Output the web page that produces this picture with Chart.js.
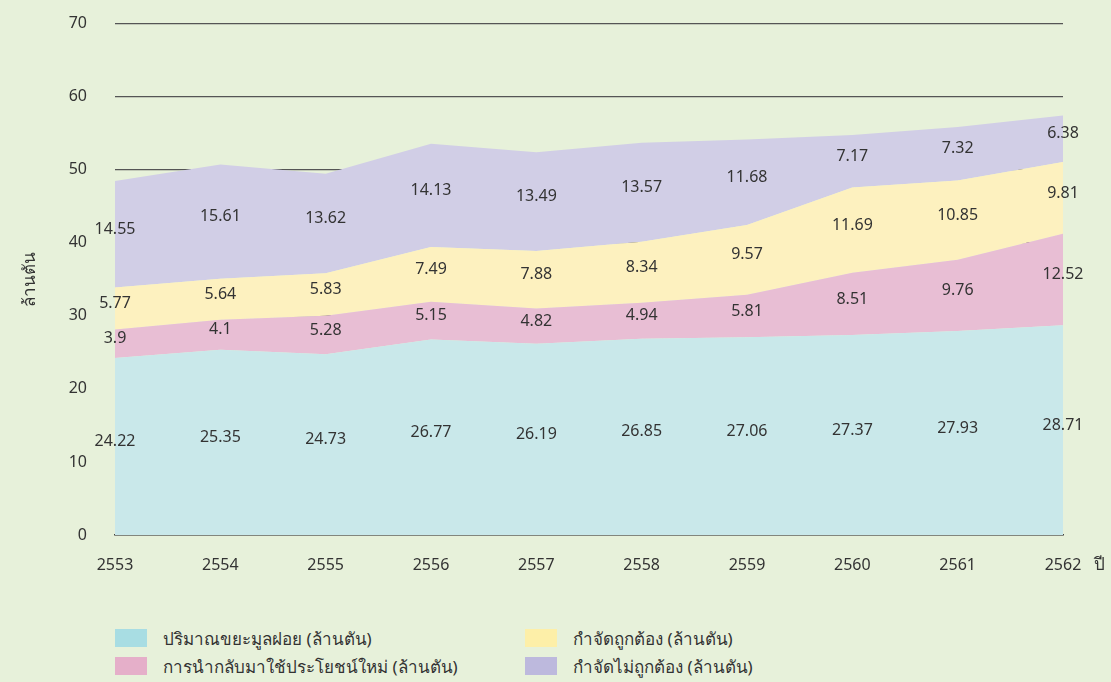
<!DOCTYPE html>
<html>
<head>
<meta charset="utf-8">
<script src="https://cdn.jsdelivr.net/npm/chart.js@4.4.0/dist/chart.umd.min.js"></script>
<style>
  html, body { margin: 0; padding: 0; background: #e7f1da; }
  body { width: 1111px; height: 682px; position: relative; overflow: hidden;
         font-family: "Noto Sans", "Noto Sans CJK SC", sans-serif; }
  #wrap { position: absolute; left: 0; top: -14px; width: 1111px; height: 614px; }
  #legend { position: absolute; left: 115px; top: 624px; display: grid;
            grid-template-rows: 28px 28px; grid-auto-flow: column;
            grid-template-columns: 410px 400px; }
  .item { display: flex; align-items: center; font-size: 17px; color: #333; }
  .box { width: 32px; height: 18px; margin-right: 16px; }
</style>
</head>
<body>
<div id="wrap"><canvas id="chart"></canvas></div>
<div id="legend"></div>
<script>
// years (พ.ศ.)
const years = ['2553','2554','2555','2556','2557','2558','2559','2560','2561','2562']
const generated = [24.22, 25.35, 24.73, 26.77, 26.19, 26.85, 27.06, 27.37, 27.93, 28.71]
const reused    = [3.9, 4.1, 5.28, 5.15, 4.82, 4.94, 5.81, 8.51, 9.76, 12.52]
const proper    = [5.77, 5.64, 5.83, 7.49, 7.88, 8.34, 9.57, 11.69, 10.85, 9.81]
const improper  = [14.55, 15.61, 13.62, 14.13, 13.49, 13.57, 11.68, 7.17, 7.32, 6.38]
const seriesNames = ['ปริมาณขยะมูลฝอย (ล้านตัน)', 'การนำกลับมาใช้ประโยชน์ใหม่ (ล้านตัน)',
                     'กำจัดถูกต้อง (ล้านตัน)', 'กำจัดไม่ถูกต้อง (ล้านตัน)']
const areaColors = ['#c9e8ea', '#e8bed4', '#fdf1bf', '#d1cee6']
const boxColors  = ['#a8dde3', '#e5afc9', '#fdefa8', '#bdb9dd']

const allSeries = [generated, reused, proper, improper]

// labels in the middle of each band
const bandLabels = {
  id: 'bandLabels',
  afterDatasetsDraw(chart) {
    const ctx = chart.ctx
    const bottom = chart.scales.y.getPixelForValue(0)
    ctx.save()
    ctx.font = '16px "Noto Sans"'
    ctx.fillStyle = '#333'
    ctx.textAlign = 'center'
    ctx.textBaseline = 'middle'
    chart.data.datasets.forEach((ds, di) => {
      const meta = chart.getDatasetMeta(di)
      const prev = di > 0 ? chart.getDatasetMeta(di - 1) : null
      meta.data.forEach((pt, i) => {
        const base = prev ? prev.data[i].y : bottom
        ctx.fillText(String(ds.data[i]), pt.x, (pt.y + base) / 2 - 5)
      })
    })
    // x axis unit, beside the last tick label
    ctx.font = '17px "Noto Sans"'
    ctx.textAlign = 'left'
    ctx.fillText('ปี', 1094, bottom + 30)
    ctx.restore()
  }
}

new Chart(document.getElementById('chart'), {
  type: 'line',
  data: {
    labels: years,
    datasets: allSeries.map((vals, i) => ({
      label: seriesNames[i],
      data: vals,
      backgroundColor: areaColors[i],
      borderWidth: 0,
      pointRadius: 0,
      tension: 0,
      fill: i === 0 ? 'origin' : '-1'
    }))
  },
  options: {
    responsive: true,
    maintainAspectRatio: false,
    animation: false,
    layout: { padding: { left: 0, right: 48, top: 9, bottom: 0 } },
    plugins: { legend: { display: false }, tooltip: { enabled: false } },
    scales: {
      x: {
        grid: { display: false },
        border: { display: true, color: '#444', width: 1.5 },
        ticks: { color: '#333', font: { size: 16, family: 'Noto Sans' }, padding: 13, maxRotation: 0 },
        afterFit(scale) { scale.height = 65 }
      },
      y: {
        stacked: true,
        min: 0, max: 70,
        ticks: { stepSize: 10, color: '#333', font: { size: 16, family: 'Noto Sans' }, padding: 28 },
        grid: { color: '#555', lineWidth: 1.2, drawTicks: false },
        border: { display: false },
        title: { display: true, text: 'ล้านตัน', color: '#333', font: { size: 17, family: 'Noto Sans' }, padding: { top: 20 } },
        afterFit(scale) { scale.width = 115 }
      }
    }
  },
  plugins: [bandLabels]
})

// html legend, two columns
const legend = document.getElementById('legend')
seriesNames.forEach((name, i) => {
  const item = document.createElement('div')
  item.className = 'item'
  item.innerHTML = '<span class="box" style="background:' + boxColors[i] + '"></span><span>' + name + '</span>'
  legend.appendChild(item)
})
</script>
</body>
</html>
